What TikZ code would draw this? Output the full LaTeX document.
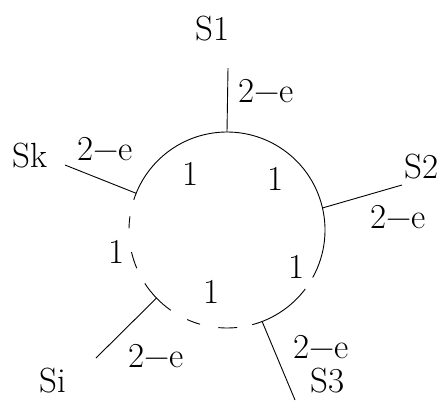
\documentclass[tikz,border=0pt]{standalone}
\usepackage{fontspec}
\begin{document}
\begin{tikzpicture}[x=1pt,y=-1pt,
  lbl/.style={inner sep=0pt,anchor=base west,font=\fontsize{35}{38}\selectfont},
  one/.style={inner sep=0pt,anchor=base,font=\fontsize{35}{40}\selectfont},
  wire/.style={line width=0.9pt},
  ring/.style={line width=0.9pt}]
\useasboundingbox (0,0) rectangle (442,400);
% ring, drawn in a local system with y pointing up
\begin{scope}[shift={(227,230)},y=1pt]
  \coordinate (j1) at (90:98);
  \coordinate (j2) at (13:98);
  \coordinate (j3) at (-69:98);
  \coordinate (ji) at (224:98);
  \coordinate (jk) at (158:98);
  \draw[ring] (-29:98) arc[start angle=-29,end angle=162,radius=98];
  \draw[ring] (172:98) arc[start angle=172,end angle=179,radius=98];
  \draw[ring] (193:98) arc[start angle=193,end angle=203,radius=98];
  \draw[ring] (213:98) arc[start angle=213,end angle=235,radius=98];
  \draw[ring] (246:98) arc[start angle=246,end angle=254,radius=98];
  \draw[ring] (265:98) arc[start angle=265,end angle=276,radius=98];
  \draw[ring] (285:98) arc[start angle=285,end angle=323,radius=98];
\end{scope}
% outer ends of the spokes
\coordinate (e1) at (228,68);
\coordinate (e2) at (402,185);
\coordinate (e3) at (295,400);
\coordinate (ei) at (96,358);
\coordinate (ek) at (65,165);
\draw[wire] (j1) -- (e1);
\draw[wire] (j2) -- (e2);
\draw[wire] (j3) -- (e3);
\draw[wire] (ji) -- (ei);
\draw[wire] (jk) -- (ek);
% labels
\node[lbl] (s1) at (195,40) {S1};
\node[lbl] (w1) at (238,102) {2−e};
\node[lbl] (sk) at (12,167) {Sk};
\node[lbl] (wk) at (77,160) {2−e};
\node[lbl] (s2) at (404,178) {S2};
\node[lbl] (w2) at (370,228) {2−e};
\node[lbl] (si) at (39,392) {Si};
\node[lbl] (wi) at (128,367) {2−e};
\node[lbl] (w3) at (293,358) {2−e};
\node[lbl] (s3) at (310,392) {S3};
\node[one] (n1) at (191,185) {1};
\node[one] (n2) at (276,190) {1};
\node[one] (n3) at (117,263) {1};
\node[one] (n4) at (297,278) {1};
\node[one] (n5) at (212,303) {1};
\end{tikzpicture}
\end{document}
